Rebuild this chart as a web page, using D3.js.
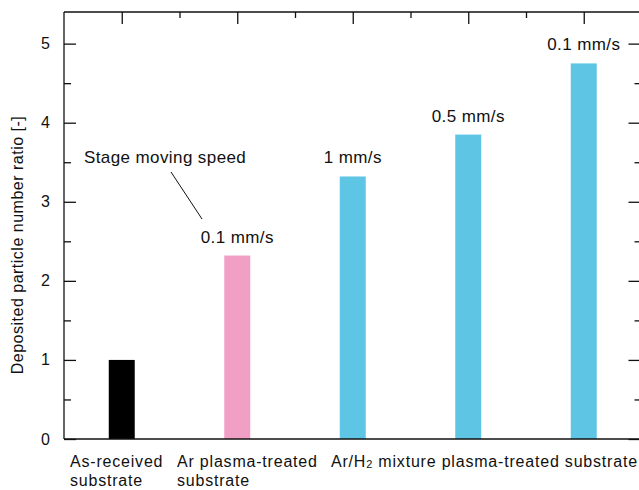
<!DOCTYPE html>
<html>
<head>
<meta charset="utf-8">
<script src="https://cdn.jsdelivr.net/npm/d3@7"></script>
<style>
  body { margin: 0; background: #fff; }
  text { font-family: "Liberation Sans", Arial, sans-serif; fill: #111; }
</style>
</head>
<body>
<div id="grafiek"></div>
<script>
// data
var categorieen = ["As-received", "Ar plasma", "Ar/H2 1", "Ar/H2 0.5", "Ar/H2 0.1"];
var waarden = [1.0, 2.32, 3.32, 3.85, 4.75];
var kleuren = ["#000000", "#f29fc5", "#5fc5e5", "#5fc5e5", "#5fc5e5"];
var snelheden = ["", "0.1 mm/s", "1 mm/s", "0.5 mm/s", "0.1 mm/s"];
var yTicks = [0, 1, 2, 3, 4, 5];

var breedte = 639, hoogte = 490;
var marge = {boven: 12, links: 64, beneden: 51};

var svg = d3.select("#grafiek")
            .append("svg")
            .attr("width", breedte)
            .attr("height", hoogte);

// schaal: iedere staaf op een oneven positie, 0..10 over de as
var x = d3.scaleLinear()
          .domain([0, 10])
          .range([marge.links, 641.5]);

var y = d3.scaleLinear()
          .domain([0, 5.4])
          .range([hoogte - marge.beneden, marge.boven]);

var staafBreedte = x(0.45) - x(0);

// staven
svg.selectAll("rect.staaf")
   .data(waarden)
   .enter()
   .append("rect")
   .attr("class", "staaf")
   .attr("x", function(d, i) { return x(2 * i + 1) - staafBreedte / 2; })
   .attr("y", function(d) { return y(d); })
   .attr("width", staafBreedte)
   .attr("height", function(d) { return y(0) - y(d); })
   .attr("fill", function(d, i) { return kleuren[i]; });

// kader (rechts valt buiten beeld)
function lijnstuk(x1, y1, x2, y2, dikte) {
  return svg.append("line")
     .attr("x1", x1).attr("y1", y1).attr("x2", x2).attr("y2", y2)
     .attr("stroke", "#111").attr("stroke-width", dikte || 1.3);
}
lijnstuk(x(0), y.range()[1], x(10), y.range()[1]);
lijnstuk(x(0), y.range()[0], x(10), y.range()[0]);
lijnstuk(x(0), y.range()[1], x(0), y.range()[0]);

var minorWaarden = [0.5, 1.5, 2.5, 3.5, 4.5];

// y-as links (ticks naar binnen)
svg.append("g")
   .attr("transform", "translate(" + x(0) + ",0)")
   .call(d3.axisRight(y).tickValues(yTicks).tickSize(12).tickFormat(""))
   .call(function(g) { g.select(".domain").remove(); });
svg.append("g")
   .attr("transform", "translate(" + x(0) + ",0)")
   .call(d3.axisRight(y).tickValues(minorWaarden).tickSize(7).tickFormat(""))
   .call(function(g) { g.select(".domain").remove(); });

// y-as rechts
svg.append("g")
   .attr("transform", "translate(" + x(10) + ",0)")
   .call(d3.axisLeft(y).tickValues(yTicks).tickSize(13).tickFormat(""))
   .call(function(g) { g.select(".domain").remove(); });
svg.append("g")
   .attr("transform", "translate(" + x(10) + ",0)")
   .call(d3.axisLeft(y).tickValues(minorWaarden).tickSize(7).tickFormat(""))
   .call(function(g) { g.select(".domain").remove(); });

// bovenste ticks
svg.append("g")
   .attr("transform", "translate(0," + y.range()[1] + ")")
   .call(d3.axisBottom(x).tickValues([1, 3, 5, 7, 9]).tickSize(12).tickFormat(""))
   .call(function(g) { g.select(".domain").remove(); });
svg.append("g")
   .attr("transform", "translate(0," + y.range()[1] + ")")
   .call(d3.axisBottom(x).tickValues([2, 4, 6, 8]).tickSize(6).tickFormat(""))
   .call(function(g) { g.select(".domain").remove(); });
svg.selectAll(".tick line").attr("stroke", "#111").attr("stroke-width", 1.3);

// y waarden
svg.selectAll("text.yLabel")
   .data(yTicks)
   .enter()
   .append("text")
   .attr("class", "yLabel")
   .attr("x", 50)
   .attr("y", function(d) { return y(d) + 5.5; })
   .attr("text-anchor", "end")
   .attr("font-size", "16px")
   .text(function(d) { return d; });

// y titel
svg.append("text")
   .attr("transform", "translate(23,245) rotate(-90)")
   .attr("text-anchor", "middle")
   .attr("font-size", "16px")
   .attr("letter-spacing", "0.5px")
   .text("Deposited particle number ratio [-]");

// snelheden boven de staven
svg.selectAll("text.snelheid")
   .data(waarden)
   .enter()
   .append("text")
   .attr("class", "snelheid")
   .attr("x", function(d, i) { return x(2 * i + 1); })
   .attr("y", function(d) { return y(d) - 13; })
   .attr("text-anchor", "middle")
   .attr("font-size", "17px")
   .attr("letter-spacing", "0.4px")
   .text(function(d, i) { return snelheden[i]; });

// annotatie
svg.append("text")
   .attr("x", 84)
   .attr("y", 163)
   .attr("font-size", "17px")
   .attr("letter-spacing", "0.4px")
   .text("Stage moving speed");
lijnstuk(171, 172, 202, 219, 1);

// categorie labels
var catLabels = svg.append("g")
                   .attr("font-size", "16px")
                   .attr("letter-spacing", "0.8px");
catLabels.append("text").attr("x", 70).attr("y", 467).text("As-received");
catLabels.append("text").attr("x", 70).attr("y", 486).text("substrate");
catLabels.append("text").attr("x", 177).attr("y", 467).text("Ar plasma-treated");
catLabels.append("text").attr("x", 177).attr("y", 486).text("substrate");
var t = catLabels.append("text").attr("x", 331).attr("y", 467);
t.append("tspan").text("Ar/H");
t.append("tspan").attr("font-size", "11px").attr("dy", 1).text("2");
t.append("tspan").attr("dy", -1).text(" mixture plasma-treated substrate");
</script>
</body>
</html>
